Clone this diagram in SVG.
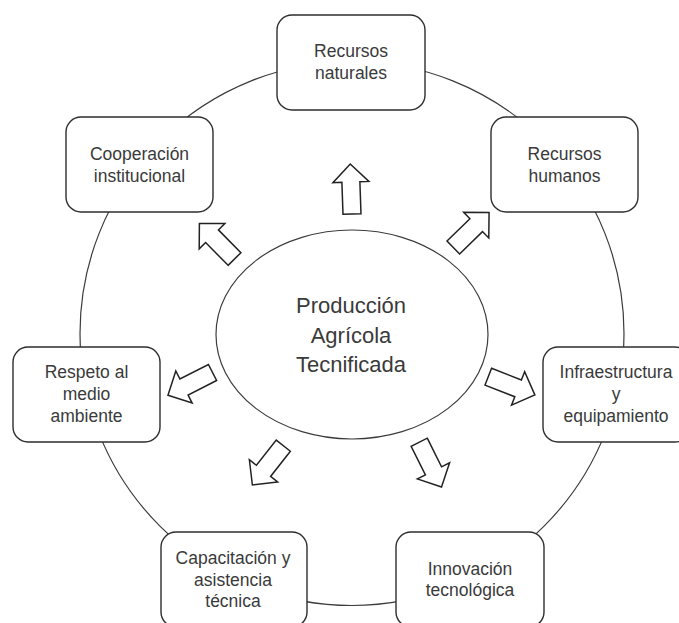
<svg xmlns="http://www.w3.org/2000/svg" width="679" height="623" viewBox="0 0 679 623">
  <defs>
    <style>
      .ring { fill: none; stroke: #3c3c3c; stroke-width: 1.2; }
      .box { fill: #ffffff; stroke: #2e2e2e; stroke-width: 1.4; }
      .arrow { fill: #ffffff; stroke: #222222; stroke-width: 1.5; stroke-linejoin: miter; }
      .lbl { font-family: "Liberation Sans", Arial, sans-serif; font-size: 17.5px; fill: #3a3a3a; text-anchor: middle; }
      .center { font-family: "Liberation Sans", Arial, sans-serif; font-size: 22px; fill: #3a3a3a; text-anchor: middle; }
    </style>
    <polygon id="blockArrow" points="0,-9 32,-9 32,-18 50,0 32,18 32,9 0,9"/>
  </defs>
  <rect width="679" height="623" fill="#ffffff"/>

  <g id="connectors">
    <circle class="ring" cx="352" cy="333.5" r="272"/>
    <use href="#blockArrow" class="arrow" transform="translate(352,214) rotate(-92)"/>
    <use href="#blockArrow" class="arrow" transform="translate(234.5,259) rotate(-134.6)"/>
    <use href="#blockArrow" class="arrow" transform="translate(453.3,247.5) rotate(-44.3)"/>
    <use href="#blockArrow" class="arrow" transform="translate(212.5,372.5) rotate(153)"/>
    <use href="#blockArrow" class="arrow" transform="translate(488.3,376.7) rotate(21.4)"/>
    <use href="#blockArrow" class="arrow" transform="translate(283.3,445.7) rotate(128.2)"/>
    <use href="#blockArrow" class="arrow" transform="translate(419.2,442.2) rotate(63.5)"/>
  </g>

  <g id="center-node">
    <ellipse class="ring" cx="352" cy="334.5" rx="136" ry="104.5" fill="#ffffff"/>
    <text class="center" x="351" y="313">Producción</text>
    <text class="center" x="351" y="343">Agrícola</text>
    <text class="center" x="351" y="372">Tecnificada</text>
  </g>

  <g id="recursos-naturales">
    <rect class="box" x="277" y="15" width="148" height="95" rx="15"/>
    <text class="lbl" x="351" y="57">Recursos</text>
    <text class="lbl" x="351" y="79">naturales</text>
  </g>

  <g id="cooperacion">
    <rect class="box" x="66" y="117" width="147" height="95" rx="15"/>
    <text class="lbl" x="139.5" y="160">Cooperación</text>
    <text class="lbl" x="139.5" y="182">institucional</text>
  </g>

  <g id="recursos-humanos">
    <rect class="box" x="491" y="117" width="147" height="95" rx="15"/>
    <text class="lbl" x="564.5" y="160">Recursos</text>
    <text class="lbl" x="564.5" y="182">humanos</text>
  </g>

  <g id="respeto">
    <rect class="box" x="13" y="347" width="147" height="95" rx="15"/>
    <text class="lbl" x="86.5" y="378">Respeto al</text>
    <text class="lbl" x="86.5" y="400">medio</text>
    <text class="lbl" x="86.5" y="422">ambiente</text>
  </g>

  <g id="infraestructura">
    <rect class="box" x="543" y="347" width="147" height="95" rx="15"/>
    <text class="lbl" x="616" y="378">Infraestructura</text>
    <text class="lbl" x="616" y="400">y</text>
    <text class="lbl" x="616" y="422">equipamiento</text>
  </g>

  <g id="capacitacion">
    <rect class="box" x="161" y="532" width="146" height="95" rx="15"/>
    <text class="lbl" x="233" y="564">Capacitación y</text>
    <text class="lbl" x="233" y="586">asistencia</text>
    <text class="lbl" x="233" y="607">técnica</text>
  </g>

  <g id="innovacion">
    <rect class="box" x="396" y="532" width="148" height="95" rx="15"/>
    <text class="lbl" x="470" y="575">Innovación</text>
    <text class="lbl" x="470" y="596">tecnológica</text>
  </g>
</svg>
